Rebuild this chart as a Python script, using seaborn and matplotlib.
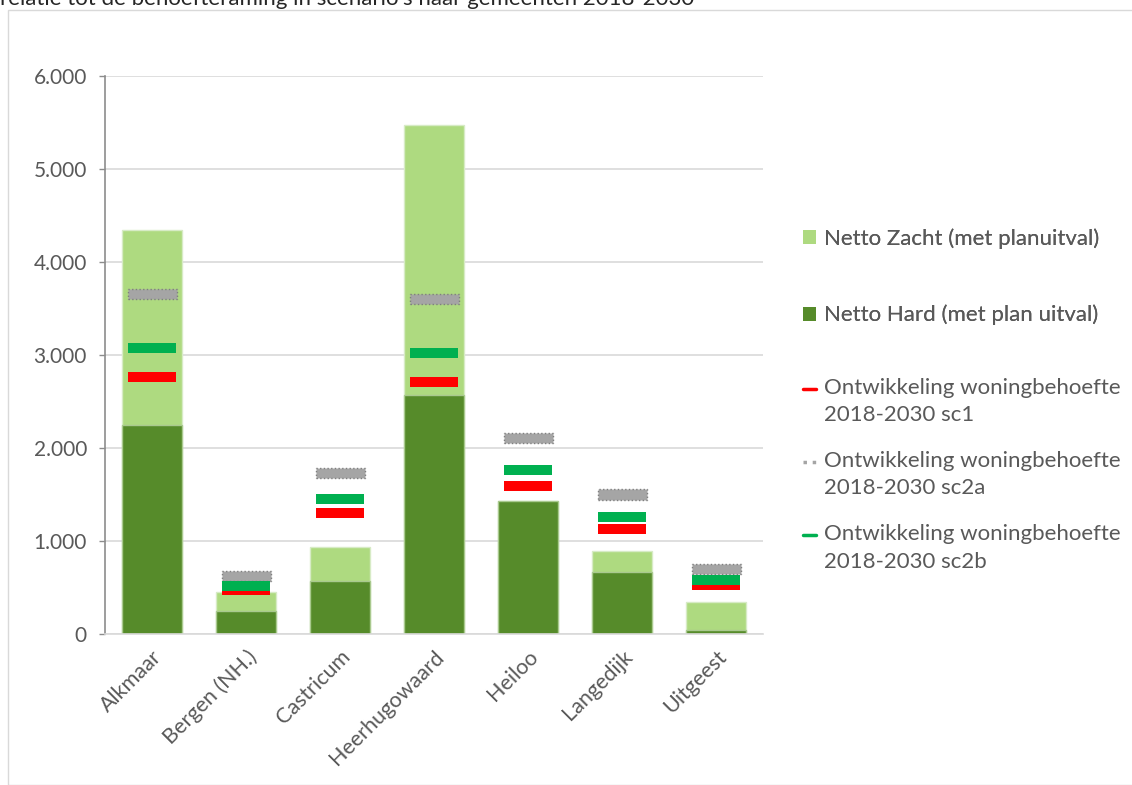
import matplotlib
matplotlib.use("Agg")
import matplotlib.pyplot as plt
import seaborn as sns
import pandas as pd
import numpy as np
from matplotlib.path import Path
from matplotlib.lines import Line2D
from matplotlib.patches import Patch, Rectangle
from matplotlib.ticker import FuncFormatter
from matplotlib.legend_handler import HandlerLine2D

gemeenten = ["Alkmaar", "Bergen (NH.)", "Castricum", "Heerhugowaard", "Heiloo", "Langedijk", "Uitgeest"]
netto_hard = [2250, 250, 575, 2575, 1430, 670, 45]
netto_zacht = [2090, 200, 365, 2895, 0, 220, 295]
sc1 = [2760, 470, 1300, 2715, 1590, 1130, 525]
sc2a = [3660, 625, 1730, 3605, 2110, 1500, 700]
sc2b = [3080, 520, 1450, 3025, 1765, 1260, 585]

totaal = [h + z for h, z in zip(netto_hard, netto_zacht)]
df = pd.DataFrame({"gemeente": gemeenten, "hard": netto_hard, "totaal": totaal,
                   "sc1": sc1, "sc2a": sc2a, "sc2b": sc2b})

sns.set_theme(style="white")
plt.rcParams["font.family"] = ["Lato", "DejaVu Sans"]
txt = "#595959"

fig = plt.figure(figsize=(11.32, 7.85), dpi=100)
ax = fig.add_axes([105/1132, 1-634/785, (763-105)/1132, (634-76)/785])

light = "#AEDA80"
dark = "#568B2A"
sns.barplot(data=df, x="gemeente", y="totaal", color=light, width=0.63,
            edgecolor="#D7EBC6", linewidth=1, saturation=1, ax=ax, zorder=2)
sns.barplot(data=df, x="gemeente", y="hard", color=dark, width=0.63,
            edgecolor="#A9C98E", linewidth=1, saturation=1, ax=ax, zorder=2)

rect = Path([(-2.4, -0.5), (2.4, -0.5), (2.4, 0.5), (-2.4, 0.5), (-2.4, -0.5)],
            [Path.MOVETO, Path.LINETO, Path.LINETO, Path.LINETO, Path.CLOSEPOLY])
sns.scatterplot(data=df, x="gemeente", y="sc1", marker=rect, s=(47 * 72 / 100) ** 2, color="#FF0000",
                linewidth=0, ax=ax, zorder=3)
sns.scatterplot(data=df, x="gemeente", y="sc2a", marker=rect, s=(49 * 72 / 100) ** 2, color="#A5A5A5",
                edgecolor="#7F7F7F", linewidth=1.0, linestyle=":", ax=ax, zorder=3)
sns.scatterplot(data=df, x="gemeente", y="sc2b", marker=rect, s=(48 * 72 / 100) ** 2, color="#00B050",
                linewidth=0, ax=ax, zorder=4)

ax.set_ylim(0, 6000)
ax.set_xlim(-0.5, 6.5)
ax.set_yticks(np.arange(0, 6001, 1000))
ax.yaxis.set_major_formatter(FuncFormatter(lambda v, p: f"{int(v):,}".replace(",", ".")))
ax.grid(axis="y", color="#D9D9D9", linewidth=1.2, zorder=0)
ax.set_axisbelow(True)
ax.set_xlabel("")
ax.set_ylabel("")
for s in ["top", "right"]:
    ax.spines[s].set_visible(False)
ax.spines["left"].set_color("#8C8C8C")
ax.spines["left"].set_linewidth(1.2)
ax.spines["bottom"].set_color("#D9D9D9")
ax.spines["bottom"].set_linewidth(1.2)
ax.tick_params(axis="y", left=True, length=4, width=1, color="#8C8C8C", labelsize=15, labelcolor=txt, pad=9)
ax.tick_params(axis="x", bottom=False, labelsize=15.5, labelcolor=txt, pad=3)
for lab in ax.get_xticklabels():
    lab.set_rotation(45)
    lab.set_ha("right")
    lab.set_rotation_mode("anchor")


class FirstLineHandler(HandlerLine2D):
    def __init__(self, shift, **kw):
        super().__init__(**kw)
        self.shift = shift

    def create_artists(self, legend, orig_handle, xdescent, ydescent, width, height, fontsize, trans):
        arts = super().create_artists(legend, orig_handle, xdescent, ydescent, width, height, fontsize, trans)
        for a in arts:
            if isinstance(a, Line2D):
                a.set_ydata(np.asarray(a.get_ydata(), dtype=float) + self.shift)
        return arts


FS = 16
h1 = [Patch(facecolor=light, edgecolor="none"), Patch(facecolor=dark, edgecolor="none")]
leg1 = fig.legend(h1, ["Netto Zacht (met planuitval)", "Netto Hard (met plan uitval)"],
                  loc="upper left", bbox_to_anchor=(803/1132, 1-228/785), frameon=False,
                  fontsize=FS, labelcolor=txt, handlelength=0.6, handleheight=0.6,
                  handletextpad=0.35, labelspacing=2.53, borderpad=0, borderaxespad=0)
h2 = [Line2D([], [], color="#FF0000", lw=2.5),
      Line2D([], [], color="#A5A5A5", lw=2.5, ls=":"),
      Line2D([], [], color="#00B050", lw=2.5)]
hm = {h: FirstLineHandler(shift=9.5) for h in h2}
leg2 = fig.legend(h2, ["Ontwikkeling woningbehoefte\n2018-2030 sc1",
                       "Ontwikkeling woningbehoefte\n2018-2030 sc2a",
                       "Ontwikkeling woningbehoefte\n2018-2030 sc2b"],
                  loc="upper left", bbox_to_anchor=(803/1132, 1-378/785), frameon=False,
                  fontsize=FS, labelcolor=txt, handlelength=0.6, handler_map=hm,
                  handletextpad=0.35, labelspacing=1.17, borderpad=0, borderaxespad=0)
for t in leg2.get_texts():
    t.set_linespacing(1.45)
fig.add_artist(leg1)

fig.add_artist(Rectangle((8/1132, 0), 1.2, 1 - 10/785, transform=fig.transFigure,
                         fill=False, edgecolor="#D9D9D9", linewidth=1))
fig.text(0.0, 1 - 5/785, "relatie tot de behoefteraming in scenario's naar gemeenten 2018-2030",
         fontsize=16, color="#262626", va="baseline", ha="left")

fig.savefig("out.png", dpi=100)
